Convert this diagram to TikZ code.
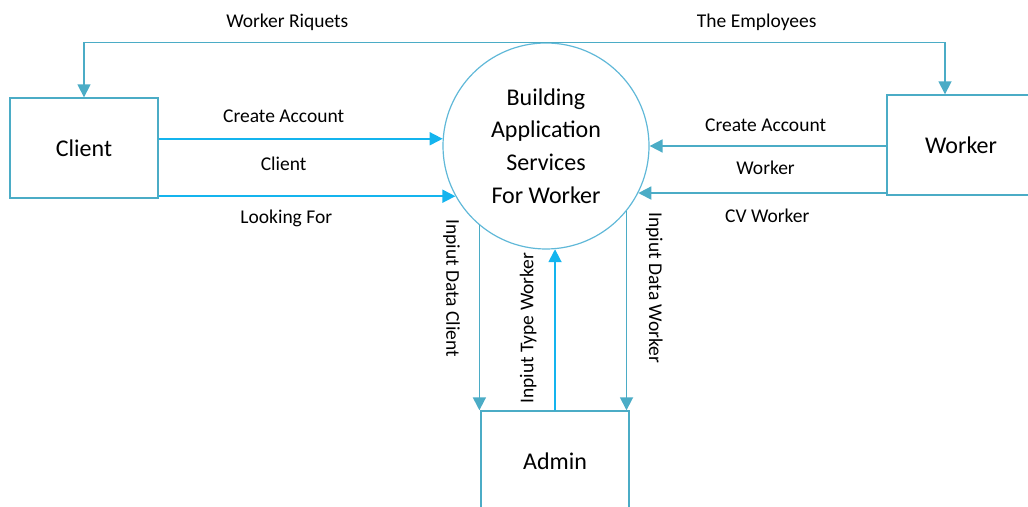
\documentclass[tikz,border=0pt]{standalone}
\usepackage{fontspec}
\setmainfont{Carlito}
\usepackage{tikz}
\usetikzlibrary{arrows.meta,positioning}
\definecolor{flowteal}{RGB}{75,172,198}
\definecolor{flowsky}{RGB}{20,180,238}
\definecolor{ringblue}{RGB}{96,184,216}
\tikzstyle{entitystyle}=[draw=flowteal,line width=0.7pt,minimum width=74pt,minimum height=50pt,font=\fontsize{12}{14}\selectfont]
\tikzstyle{processstyle}=[draw=ringblue,line width=0.6pt,circle,minimum size=103pt,inner sep=0pt,align=center,font=\fontsize{12}{16.4}\selectfont]

\begin{document}
\begin{tikzpicture}[x=0.5pt,y=-0.5pt,on grid]
	\tikzstyle{flow}=[draw=flowteal,line width=0.85pt,-{Triangle[length=6.5pt,width=6.5pt]}]
	\tikzstyle{skyflow}=[flow,draw=flowsky,fill=flowsky]
	\tikzstyle{lbl}=[font=\fontsize{9.75}{12}\selectfont]

	\useasboundingbox (0,0) rectangle (1028,507);

	\node[processstyle]	(proc) at (546,146)	{Building\\Application\\Services\\For Worker};
	\node[entitystyle]	(client) [below left=1pt and 231pt of proc]	{Client};
	\node[entitystyle]	(worker) [above right=0.5pt and 207.5pt of proc]	{Worker};
	\node[entitystyle]	(admin) [below right=157.5pt and 4.5pt of proc]	{Admin};

	% flows over the top
	\draw[flow] (proc.north) -| (client.north) node[lbl,pos=0.28,above=2pt] {Worker Riquets};
	\draw[flow] (proc.north) -| ([xshift=-8pt]worker.north) node[lbl,pos=0.264,above=2pt] {The Employees};

	% client side
	\draw[skyflow] (client.east |- proc.176.7) -- (proc.176.7)
		node[lbl,pos=0.44,above=4.5pt] {Create Account}
		node[lbl,pos=0.44,below=5.5pt] {Client};
	\draw[skyflow] (client.east |- proc.209.7) -- (proc.209.7)
		node[lbl,pos=0.43,below=3pt] {Looking For};

	% worker side
	\draw[flow] (worker.west |- proc.0.5) -- (proc.0.5)
		node[lbl,pos=0.51,above=3.5pt] {Create Account}
		node[lbl,pos=0.51,below=3.5pt] {Worker};
	\draw[flow] (worker.west |- proc.-27) -- (proc.-27)
		node[lbl,pos=0.48,below=4pt] {CV Worker};

	% admin
	\draw[flow] (proc.230.9) -- (proc.230.9 |- admin.north)
		node[lbl,pos=0.34,sloped,below=6pt] {Inpiut Data Client};
	\draw[skyflow] (admin.north) -- (proc.-85)
		node[lbl,pos=0.51,sloped,above=5.5pt] {Inpiut Type Worker};
	\draw[flow] (proc.-39) -- (proc.-39 |- admin.north)
		node[lbl,pos=0.385,sloped,above=6pt] {Inpiut Data Worker};
\end{tikzpicture}
\end{document}
